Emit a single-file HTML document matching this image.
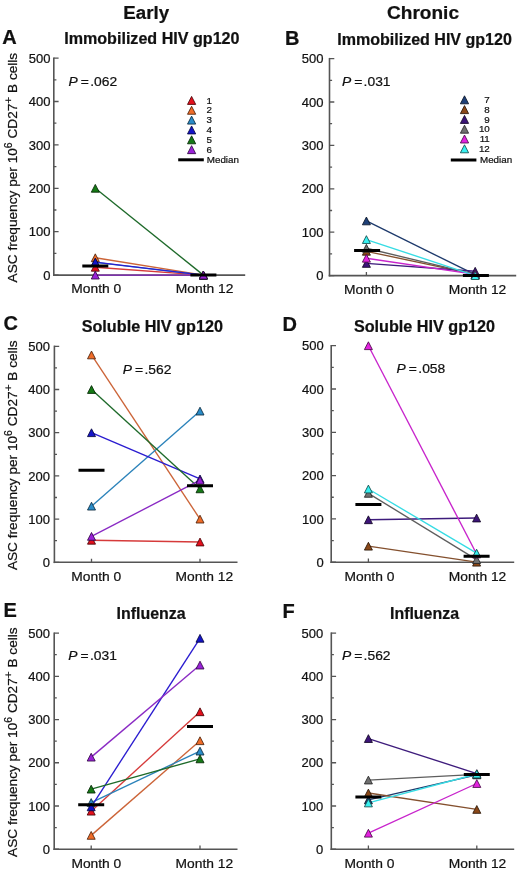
<!DOCTYPE html>
<html><head><meta charset="utf-8"><style>
html,body{margin:0;padding:0;background:#fff;}
body{width:520px;height:871px;overflow:hidden;}
svg{display:block;will-change:transform;filter:blur(0.35px);}
text{font-family:"Liberation Sans", sans-serif;fill:#111;stroke:#111;stroke-width:0.22px;}
.tl{font-size:13px;}
.ml{font-size:13.3px;}
.st{font-size:16px;font-weight:bold;}
.pl{font-size:20px;font-weight:bold;}
.hd{font-size:18px;font-weight:bold;}
.pv{font-size:13.4px;}
.yt{font-size:13.65px;}
.lg{font-size:9.8px;}
</style></head><body>
<svg width="520" height="871" viewBox="0 0 520 871">
<rect width="520" height="871" fill="#fff"/>
<path d="M53.80 57.40V275.90" stroke="#555555" stroke-width="1.6" fill="none"/>
<path d="M53.80 275.10h4.80M53.80 253.40h2.60M53.80 231.70h4.80M53.80 210.00h2.60M53.80 188.30h4.80M53.80 166.60h2.60M53.80 144.90h4.80M53.80 123.20h2.60M53.80 101.50h4.80M53.80 79.80h2.60M53.80 58.10h4.80" stroke="#555555" stroke-width="1.3" fill="none"/>
<path d="M53.00 275.10H245.20" stroke="#555555" stroke-width="1.6" fill="none"/>
<path d="M95.30 275.10v-3.6M203.40 275.10v-3.6" stroke="#555555" stroke-width="1.3" fill="none"/>
<text x="50.40" y="279.70" text-anchor="end" class="tl">0</text>
<text x="50.40" y="236.30" text-anchor="end" class="tl">100</text>
<text x="50.40" y="192.90" text-anchor="end" class="tl">200</text>
<text x="50.40" y="149.50" text-anchor="end" class="tl">300</text>
<text x="50.40" y="106.10" text-anchor="end" class="tl">400</text>
<text x="50.40" y="62.70" text-anchor="end" class="tl">500</text>
<text transform="translate(71.30 293.40) scale(1.04 1)" class="ml">Month 0</text>
<text transform="translate(175.80 293.40) scale(1.04 1)" class="ml">Month 12</text>
<text x="64.20" y="44.20" class="st" textLength="175.3" lengthAdjust="spacingAndGlyphs">Immobilized HIV gp120</text>
<text x="2.20" y="44.00" class="pl">A</text>
<text transform="translate(68.50 85.90) scale(1.035 1)" class="pv"><tspan font-style="italic">P</tspan><tspan dx="2.9">=</tspan><tspan dx="1.3">.062</tspan></text>
<text transform="translate(16.8 167.60) rotate(-90)" text-anchor="middle" class="yt">ASC frequency per 10<tspan dy="-5.3" font-size="10.5">6</tspan><tspan dy="5.3"> CD27</tspan><tspan dy="-5.0" font-size="11.8">+</tspan><tspan dy="5.0"> B cells</tspan></text>
<path d="M95.30 267.29L203.40 275.10" stroke="#d63a3a" stroke-width="1.35" fill="none"/>
<path d="M95.30 257.74L203.40 275.10" stroke="#cc6438" stroke-width="1.35" fill="none"/>
<path d="M95.30 262.30L203.40 275.10" stroke="#2a82ba" stroke-width="1.35" fill="none"/>
<path d="M95.30 262.08L203.40 275.10" stroke="#2a1cd0" stroke-width="1.35" fill="none"/>
<path d="M95.30 188.30L203.40 275.10" stroke="#1e6a2a" stroke-width="1.35" fill="none"/>
<path d="M95.30 275.10L203.40 275.10" stroke="#8a2ac4" stroke-width="1.35" fill="none"/>
<path d="M95.30 263.39L99.30 271.19L91.30 271.19Z" fill="#e4101c" stroke="#480508" stroke-width="0.85" stroke-linejoin="miter"/>
<path d="M95.30 253.84L99.30 261.64L91.30 261.64Z" fill="#f06c28" stroke="#4c220c" stroke-width="0.85" stroke-linejoin="miter"/>
<path d="M95.30 258.40L99.30 266.20L91.30 266.20Z" fill="#2a8cc8" stroke="#0d2c40" stroke-width="0.85" stroke-linejoin="miter"/>
<path d="M95.30 258.18L99.30 265.98L91.30 265.98Z" fill="#1414c8" stroke="#060640" stroke-width="0.85" stroke-linejoin="miter"/>
<path d="M95.30 184.40L99.30 192.20L91.30 192.20Z" fill="#157a15" stroke="#062706" stroke-width="0.85" stroke-linejoin="miter"/>
<path d="M95.30 271.20L99.30 279.00L91.30 279.00Z" fill="#9a22d8" stroke="#310a45" stroke-width="0.85" stroke-linejoin="miter"/>
<path d="M203.40 271.20L207.40 279.00L199.40 279.00Z" fill="#e4101c" stroke="#480508" stroke-width="0.85" stroke-linejoin="miter"/>
<path d="M203.40 271.20L207.40 279.00L199.40 279.00Z" fill="#f06c28" stroke="#4c220c" stroke-width="0.85" stroke-linejoin="miter"/>
<path d="M203.40 271.20L207.40 279.00L199.40 279.00Z" fill="#2a8cc8" stroke="#0d2c40" stroke-width="0.85" stroke-linejoin="miter"/>
<path d="M203.40 271.20L207.40 279.00L199.40 279.00Z" fill="#1414c8" stroke="#060640" stroke-width="0.85" stroke-linejoin="miter"/>
<path d="M203.40 271.20L207.40 279.00L199.40 279.00Z" fill="#157a15" stroke="#062706" stroke-width="0.85" stroke-linejoin="miter"/>
<path d="M203.40 271.20L207.40 279.00L199.40 279.00Z" fill="#9a22d8" stroke="#310a45" stroke-width="0.85" stroke-linejoin="miter"/>
<path d="M82.30 265.99h26M190.40 275.10h26" stroke="#000" stroke-width="3" fill="none"/>
<path d="M329.50 57.90V276.40" stroke="#555555" stroke-width="1.6" fill="none"/>
<path d="M329.50 275.60h4.80M329.50 253.90h2.60M329.50 232.20h4.80M329.50 210.50h2.60M329.50 188.80h4.80M329.50 167.10h2.60M329.50 145.40h4.80M329.50 123.70h2.60M329.50 102.00h4.80M329.50 80.30h2.60M329.50 58.60h4.80" stroke="#555555" stroke-width="1.3" fill="none"/>
<path d="M328.70 275.60H516.20" stroke="#555555" stroke-width="1.6" fill="none"/>
<path d="M366.40 275.60v-3.6M475.20 275.60v-3.6" stroke="#555555" stroke-width="1.3" fill="none"/>
<text x="323.40" y="280.20" text-anchor="end" class="tl">0</text>
<text x="323.40" y="236.80" text-anchor="end" class="tl">100</text>
<text x="323.40" y="193.40" text-anchor="end" class="tl">200</text>
<text x="323.40" y="150.00" text-anchor="end" class="tl">300</text>
<text x="323.40" y="106.60" text-anchor="end" class="tl">400</text>
<text x="323.40" y="63.20" text-anchor="end" class="tl">500</text>
<text transform="translate(344.10 294.00) scale(1.04 1)" class="ml">Month 0</text>
<text transform="translate(448.70 294.00) scale(1.04 1)" class="ml">Month 12</text>
<text x="337.20" y="45.20" class="st" textLength="174.7" lengthAdjust="spacingAndGlyphs">Immobilized HIV gp120</text>
<text x="285.10" y="45.30" class="pl">B</text>
<text transform="translate(341.90 85.90) scale(1.035 1)" class="pv"><tspan font-style="italic">P</tspan><tspan dx="2.9">=</tspan><tspan dx="1.3">.031</tspan></text>
<path d="M366.40 220.92L475.20 274.73" stroke="#1e3a6c" stroke-width="1.35" fill="none"/>
<path d="M366.40 251.30L475.20 274.30" stroke="#84502e" stroke-width="1.35" fill="none"/>
<path d="M366.40 263.45L475.20 271.26" stroke="#3e1c7c" stroke-width="1.35" fill="none"/>
<path d="M366.40 248.26L475.20 274.30" stroke="#5e5e5e" stroke-width="1.35" fill="none"/>
<path d="M366.40 258.24L475.20 274.30" stroke="#c824cc" stroke-width="1.35" fill="none"/>
<path d="M366.40 239.58L475.20 275.60" stroke="#36dce4" stroke-width="1.35" fill="none"/>
<path d="M366.40 217.02L370.40 224.82L362.40 224.82Z" fill="#1e4078" stroke="#091426" stroke-width="0.85" stroke-linejoin="miter"/>
<path d="M366.40 247.40L370.40 255.20L362.40 255.20Z" fill="#8a4818" stroke="#2c1707" stroke-width="0.85" stroke-linejoin="miter"/>
<path d="M366.40 259.55L370.40 267.35L362.40 267.35Z" fill="#3c1478" stroke="#130626" stroke-width="0.85" stroke-linejoin="miter"/>
<path d="M366.40 244.36L370.40 252.16L362.40 252.16Z" fill="#707070" stroke="#232323" stroke-width="0.85" stroke-linejoin="miter"/>
<path d="M366.40 254.34L370.40 262.14L362.40 262.14Z" fill="#e422e0" stroke="#480a47" stroke-width="0.85" stroke-linejoin="miter"/>
<path d="M366.40 235.68L370.40 243.48L362.40 243.48Z" fill="#38f0f0" stroke="#114c4c" stroke-width="0.85" stroke-linejoin="miter"/>
<path d="M475.20 270.83L479.20 278.63L471.20 278.63Z" fill="#1e4078" stroke="#091426" stroke-width="0.85" stroke-linejoin="miter"/>
<path d="M475.20 270.40L479.20 278.20L471.20 278.20Z" fill="#8a4818" stroke="#2c1707" stroke-width="0.85" stroke-linejoin="miter"/>
<path d="M475.20 267.36L479.20 275.16L471.20 275.16Z" fill="#3c1478" stroke="#130626" stroke-width="0.85" stroke-linejoin="miter"/>
<path d="M475.20 270.40L479.20 278.20L471.20 278.20Z" fill="#707070" stroke="#232323" stroke-width="0.85" stroke-linejoin="miter"/>
<path d="M475.20 270.40L479.20 278.20L471.20 278.20Z" fill="#e422e0" stroke="#480a47" stroke-width="0.85" stroke-linejoin="miter"/>
<path d="M475.20 271.70L479.20 279.50L471.20 279.50Z" fill="#38f0f0" stroke="#114c4c" stroke-width="0.85" stroke-linejoin="miter"/>
<path d="M354.10 250.43h26M462.90 275.60h26" stroke="#000" stroke-width="3" fill="none"/>
<path d="M54.40 345.60V563.10" stroke="#555555" stroke-width="1.6" fill="none"/>
<path d="M54.40 562.30h4.80M54.40 540.70h2.60M54.40 519.10h4.80M54.40 497.50h2.60M54.40 475.90h4.80M54.40 454.30h2.60M54.40 432.70h4.80M54.40 411.10h2.60M54.40 389.50h4.80M54.40 367.90h2.60M54.40 346.30h4.80" stroke="#555555" stroke-width="1.3" fill="none"/>
<path d="M53.60 562.30H237.50" stroke="#555555" stroke-width="1.6" fill="none"/>
<path d="M91.50 562.30v-3.6M200.00 562.30v-3.6" stroke="#555555" stroke-width="1.3" fill="none"/>
<text x="49.90" y="566.90" text-anchor="end" class="tl">0</text>
<text x="49.90" y="523.70" text-anchor="end" class="tl">100</text>
<text x="49.90" y="480.50" text-anchor="end" class="tl">200</text>
<text x="49.90" y="437.30" text-anchor="end" class="tl">300</text>
<text x="49.90" y="394.10" text-anchor="end" class="tl">400</text>
<text x="49.90" y="350.90" text-anchor="end" class="tl">500</text>
<text transform="translate(71.30 580.90) scale(1.04 1)" class="ml">Month 0</text>
<text transform="translate(175.60 580.90) scale(1.04 1)" class="ml">Month 12</text>
<text x="81.70" y="332.20" class="st" textLength="141.2" lengthAdjust="spacingAndGlyphs">Soluble HIV gp120</text>
<text x="3.50" y="329.80" class="pl">C</text>
<text transform="translate(122.80 373.70) scale(1.035 1)" class="pv"><tspan font-style="italic">P</tspan><tspan dx="2.9">=</tspan><tspan dx="1.3">.562</tspan></text>
<text transform="translate(16.8 455.30) rotate(-90)" text-anchor="middle" class="yt">ASC frequency per 10<tspan dy="-5.3" font-size="10.5">6</tspan><tspan dy="5.3"> CD27</tspan><tspan dy="-5.0" font-size="11.8">+</tspan><tspan dy="5.0"> B cells</tspan></text>
<path d="M91.50 540.27L200.00 542.00" stroke="#d63a3a" stroke-width="1.35" fill="none"/>
<path d="M91.50 354.94L200.00 519.10" stroke="#cc6438" stroke-width="1.35" fill="none"/>
<path d="M91.50 506.14L200.00 411.10" stroke="#2a82ba" stroke-width="1.35" fill="none"/>
<path d="M91.50 432.70L200.00 478.92" stroke="#2a1cd0" stroke-width="1.35" fill="none"/>
<path d="M91.50 389.50L200.00 488.86" stroke="#1e6a2a" stroke-width="1.35" fill="none"/>
<path d="M91.50 536.38L200.00 480.22" stroke="#8a2ac4" stroke-width="1.35" fill="none"/>
<path d="M91.50 536.37L95.50 544.17L87.50 544.17Z" fill="#e4101c" stroke="#480508" stroke-width="0.85" stroke-linejoin="miter"/>
<path d="M91.50 351.04L95.50 358.84L87.50 358.84Z" fill="#f06c28" stroke="#4c220c" stroke-width="0.85" stroke-linejoin="miter"/>
<path d="M91.50 502.24L95.50 510.04L87.50 510.04Z" fill="#2a8cc8" stroke="#0d2c40" stroke-width="0.85" stroke-linejoin="miter"/>
<path d="M91.50 428.80L95.50 436.60L87.50 436.60Z" fill="#1414c8" stroke="#060640" stroke-width="0.85" stroke-linejoin="miter"/>
<path d="M91.50 385.60L95.50 393.40L87.50 393.40Z" fill="#157a15" stroke="#062706" stroke-width="0.85" stroke-linejoin="miter"/>
<path d="M91.50 532.48L95.50 540.28L87.50 540.28Z" fill="#9a22d8" stroke="#310a45" stroke-width="0.85" stroke-linejoin="miter"/>
<path d="M200.00 538.10L204.00 545.90L196.00 545.90Z" fill="#e4101c" stroke="#480508" stroke-width="0.85" stroke-linejoin="miter"/>
<path d="M200.00 515.20L204.00 523.00L196.00 523.00Z" fill="#f06c28" stroke="#4c220c" stroke-width="0.85" stroke-linejoin="miter"/>
<path d="M200.00 407.20L204.00 415.00L196.00 415.00Z" fill="#2a8cc8" stroke="#0d2c40" stroke-width="0.85" stroke-linejoin="miter"/>
<path d="M200.00 475.02L204.00 482.82L196.00 482.82Z" fill="#1414c8" stroke="#060640" stroke-width="0.85" stroke-linejoin="miter"/>
<path d="M200.00 484.96L204.00 492.76L196.00 492.76Z" fill="#157a15" stroke="#062706" stroke-width="0.85" stroke-linejoin="miter"/>
<path d="M200.00 476.32L204.00 484.12L196.00 484.12Z" fill="#9a22d8" stroke="#310a45" stroke-width="0.85" stroke-linejoin="miter"/>
<path d="M78.50 470.28h26M187.00 485.84h26" stroke="#000" stroke-width="3" fill="none"/>
<path d="M331.20 345.00V563.00" stroke="#555555" stroke-width="1.6" fill="none"/>
<path d="M331.20 562.20h4.80M331.20 540.55h2.60M331.20 518.90h4.80M331.20 497.25h2.60M331.20 475.60h4.80M331.20 453.95h2.60M331.20 432.30h4.80M331.20 410.65h2.60M331.20 389.00h4.80M331.20 367.35h2.60M331.20 345.70h4.80" stroke="#555555" stroke-width="1.3" fill="none"/>
<path d="M330.40 562.20H514.20" stroke="#555555" stroke-width="1.6" fill="none"/>
<path d="M368.40 562.20v-3.6M476.60 562.20v-3.6" stroke="#555555" stroke-width="1.3" fill="none"/>
<text x="323.70" y="566.80" text-anchor="end" class="tl">0</text>
<text x="323.70" y="523.50" text-anchor="end" class="tl">100</text>
<text x="323.70" y="480.20" text-anchor="end" class="tl">200</text>
<text x="323.70" y="436.90" text-anchor="end" class="tl">300</text>
<text x="323.70" y="393.60" text-anchor="end" class="tl">400</text>
<text x="323.70" y="350.30" text-anchor="end" class="tl">500</text>
<text transform="translate(344.50 580.90) scale(1.04 1)" class="ml">Month 0</text>
<text transform="translate(448.70 580.90) scale(1.04 1)" class="ml">Month 12</text>
<text x="353.90" y="332.40" class="st" textLength="141.2" lengthAdjust="spacingAndGlyphs">Soluble HIV gp120</text>
<text x="282.60" y="330.80" class="pl">D</text>
<text transform="translate(396.60 373.20) scale(1.035 1)" class="pv"><tspan font-style="italic">P</tspan><tspan dx="2.9">=</tspan><tspan dx="1.3">.058</tspan></text>
<path d="M368.40 546.18L476.60 562.20" stroke="#84502e" stroke-width="1.35" fill="none"/>
<path d="M368.40 519.77L476.60 518.03" stroke="#3e1c7c" stroke-width="1.35" fill="none"/>
<path d="M368.40 493.35L476.60 559.60" stroke="#5e5e5e" stroke-width="1.35" fill="none"/>
<path d="M368.40 345.70L476.60 553.97" stroke="#c824cc" stroke-width="1.35" fill="none"/>
<path d="M368.40 489.02L476.60 553.11" stroke="#36dce4" stroke-width="1.35" fill="none"/>
<path d="M368.40 542.28L372.40 550.08L364.40 550.08Z" fill="#8a4818" stroke="#2c1707" stroke-width="0.85" stroke-linejoin="miter"/>
<path d="M368.40 515.87L372.40 523.67L364.40 523.67Z" fill="#3c1478" stroke="#130626" stroke-width="0.85" stroke-linejoin="miter"/>
<path d="M368.40 489.45L372.40 497.25L364.40 497.25Z" fill="#707070" stroke="#232323" stroke-width="0.85" stroke-linejoin="miter"/>
<path d="M368.40 341.80L372.40 349.60L364.40 349.60Z" fill="#e422e0" stroke="#480a47" stroke-width="0.85" stroke-linejoin="miter"/>
<path d="M368.40 485.12L372.40 492.92L364.40 492.92Z" fill="#38f0f0" stroke="#114c4c" stroke-width="0.85" stroke-linejoin="miter"/>
<path d="M476.60 558.30L480.60 566.10L472.60 566.10Z" fill="#8a4818" stroke="#2c1707" stroke-width="0.85" stroke-linejoin="miter"/>
<path d="M476.60 514.13L480.60 521.93L472.60 521.93Z" fill="#3c1478" stroke="#130626" stroke-width="0.85" stroke-linejoin="miter"/>
<path d="M476.60 555.70L480.60 563.50L472.60 563.50Z" fill="#707070" stroke="#232323" stroke-width="0.85" stroke-linejoin="miter"/>
<path d="M476.60 550.07L480.60 557.87L472.60 557.87Z" fill="#e422e0" stroke="#480a47" stroke-width="0.85" stroke-linejoin="miter"/>
<path d="M476.60 549.21L480.60 557.01L472.60 557.01Z" fill="#38f0f0" stroke="#114c4c" stroke-width="0.85" stroke-linejoin="miter"/>
<path d="M355.40 504.61h26M463.60 556.14h26" stroke="#000" stroke-width="3" fill="none"/>
<path d="M54.20 632.40V850.00" stroke="#555555" stroke-width="1.6" fill="none"/>
<path d="M54.20 849.20h4.80M54.20 827.59h2.60M54.20 805.98h4.80M54.20 784.37h2.60M54.20 762.76h4.80M54.20 741.15h2.60M54.20 719.54h4.80M54.20 697.93h2.60M54.20 676.32h4.80M54.20 654.71h2.60M54.20 633.10h4.80" stroke="#555555" stroke-width="1.3" fill="none"/>
<path d="M53.40 849.20H237.50" stroke="#555555" stroke-width="1.6" fill="none"/>
<path d="M91.20 849.20v-3.6M200.00 849.20v-3.6" stroke="#555555" stroke-width="1.3" fill="none"/>
<text x="49.90" y="853.80" text-anchor="end" class="tl">0</text>
<text x="49.90" y="810.58" text-anchor="end" class="tl">100</text>
<text x="49.90" y="767.36" text-anchor="end" class="tl">200</text>
<text x="49.90" y="724.14" text-anchor="end" class="tl">300</text>
<text x="49.90" y="680.92" text-anchor="end" class="tl">400</text>
<text x="49.90" y="637.70" text-anchor="end" class="tl">500</text>
<text transform="translate(71.40 867.80) scale(1.04 1)" class="ml">Month 0</text>
<text transform="translate(175.60 867.80) scale(1.04 1)" class="ml">Month 12</text>
<text x="116.60" y="618.50" class="st" textLength="69.0" lengthAdjust="spacingAndGlyphs">Influenza</text>
<text x="3.40" y="617.10" class="pl">E</text>
<text transform="translate(68.30 660.00) scale(1.035 1)" class="pv"><tspan font-style="italic">P</tspan><tspan dx="2.9">=</tspan><tspan dx="1.3">.031</tspan></text>
<text transform="translate(16.8 742.15) rotate(-90)" text-anchor="middle" class="yt">ASC frequency per 10<tspan dy="-5.3" font-size="10.5">6</tspan><tspan dy="5.3"> CD27</tspan><tspan dy="-5.0" font-size="11.8">+</tspan><tspan dy="5.0"> B cells</tspan></text>
<path d="M91.20 811.17L200.00 711.76" stroke="#d63a3a" stroke-width="1.35" fill="none"/>
<path d="M91.20 835.37L200.00 740.72" stroke="#cc6438" stroke-width="1.35" fill="none"/>
<path d="M91.20 802.52L200.00 751.09" stroke="#2a82ba" stroke-width="1.35" fill="none"/>
<path d="M91.20 806.84L200.00 638.29" stroke="#2a1cd0" stroke-width="1.35" fill="none"/>
<path d="M91.20 789.12L200.00 758.87" stroke="#1e6a2a" stroke-width="1.35" fill="none"/>
<path d="M91.20 757.14L200.00 665.08" stroke="#8a2ac4" stroke-width="1.35" fill="none"/>
<path d="M91.20 807.27L95.20 815.07L87.20 815.07Z" fill="#e4101c" stroke="#480508" stroke-width="0.85" stroke-linejoin="miter"/>
<path d="M91.20 831.47L95.20 839.27L87.20 839.27Z" fill="#f06c28" stroke="#4c220c" stroke-width="0.85" stroke-linejoin="miter"/>
<path d="M91.20 798.62L95.20 806.42L87.20 806.42Z" fill="#2a8cc8" stroke="#0d2c40" stroke-width="0.85" stroke-linejoin="miter"/>
<path d="M91.20 802.94L95.20 810.74L87.20 810.74Z" fill="#1414c8" stroke="#060640" stroke-width="0.85" stroke-linejoin="miter"/>
<path d="M91.20 785.22L95.20 793.02L87.20 793.02Z" fill="#157a15" stroke="#062706" stroke-width="0.85" stroke-linejoin="miter"/>
<path d="M91.20 753.24L95.20 761.04L87.20 761.04Z" fill="#9a22d8" stroke="#310a45" stroke-width="0.85" stroke-linejoin="miter"/>
<path d="M200.00 707.86L204.00 715.66L196.00 715.66Z" fill="#e4101c" stroke="#480508" stroke-width="0.85" stroke-linejoin="miter"/>
<path d="M200.00 736.82L204.00 744.62L196.00 744.62Z" fill="#f06c28" stroke="#4c220c" stroke-width="0.85" stroke-linejoin="miter"/>
<path d="M200.00 747.19L204.00 754.99L196.00 754.99Z" fill="#2a8cc8" stroke="#0d2c40" stroke-width="0.85" stroke-linejoin="miter"/>
<path d="M200.00 634.39L204.00 642.19L196.00 642.19Z" fill="#1414c8" stroke="#060640" stroke-width="0.85" stroke-linejoin="miter"/>
<path d="M200.00 754.97L204.00 762.77L196.00 762.77Z" fill="#157a15" stroke="#062706" stroke-width="0.85" stroke-linejoin="miter"/>
<path d="M200.00 661.18L204.00 668.98L196.00 668.98Z" fill="#9a22d8" stroke="#310a45" stroke-width="0.85" stroke-linejoin="miter"/>
<path d="M78.20 804.68h26M187.00 726.46h26" stroke="#000" stroke-width="3" fill="none"/>
<path d="M331.30 632.40V850.00" stroke="#555555" stroke-width="1.6" fill="none"/>
<path d="M331.30 849.20h4.80M331.30 827.59h2.60M331.30 805.98h4.80M331.30 784.37h2.60M331.30 762.76h4.80M331.30 741.15h2.60M331.30 719.54h4.80M331.30 697.93h2.60M331.30 676.32h4.80M331.30 654.71h2.60M331.30 633.10h4.80" stroke="#555555" stroke-width="1.3" fill="none"/>
<path d="M330.50 849.20H514.20" stroke="#555555" stroke-width="1.6" fill="none"/>
<path d="M368.40 849.20v-3.6M476.80 849.20v-3.6" stroke="#555555" stroke-width="1.3" fill="none"/>
<text x="323.30" y="853.80" text-anchor="end" class="tl">0</text>
<text x="323.30" y="810.58" text-anchor="end" class="tl">100</text>
<text x="323.30" y="767.36" text-anchor="end" class="tl">200</text>
<text x="323.30" y="724.14" text-anchor="end" class="tl">300</text>
<text x="323.30" y="680.92" text-anchor="end" class="tl">400</text>
<text x="323.30" y="637.70" text-anchor="end" class="tl">500</text>
<text transform="translate(344.50 867.80) scale(1.04 1)" class="ml">Month 0</text>
<text transform="translate(448.70 867.80) scale(1.04 1)" class="ml">Month 12</text>
<text x="390.00" y="618.50" class="st" textLength="69.0" lengthAdjust="spacingAndGlyphs">Influenza</text>
<text x="282.60" y="618.30" class="pl">F</text>
<text transform="translate(341.90 659.90) scale(1.035 1)" class="pv"><tspan font-style="italic">P</tspan><tspan dx="2.9">=</tspan><tspan dx="1.3">.562</tspan></text>
<path d="M368.40 799.93L476.80 774.86" stroke="#1e3a6c" stroke-width="1.35" fill="none"/>
<path d="M368.40 793.01L476.80 809.44" stroke="#84502e" stroke-width="1.35" fill="none"/>
<path d="M368.40 738.56L476.80 773.57" stroke="#3e1c7c" stroke-width="1.35" fill="none"/>
<path d="M368.40 780.05L476.80 774.43" stroke="#5e5e5e" stroke-width="1.35" fill="none"/>
<path d="M368.40 833.21L476.80 783.51" stroke="#c824cc" stroke-width="1.35" fill="none"/>
<path d="M368.40 802.95L476.80 774.00" stroke="#36dce4" stroke-width="1.35" fill="none"/>
<path d="M368.40 796.03L372.40 803.83L364.40 803.83Z" fill="#1e4078" stroke="#091426" stroke-width="0.85" stroke-linejoin="miter"/>
<path d="M368.40 789.11L372.40 796.91L364.40 796.91Z" fill="#8a4818" stroke="#2c1707" stroke-width="0.85" stroke-linejoin="miter"/>
<path d="M368.40 734.66L372.40 742.46L364.40 742.46Z" fill="#3c1478" stroke="#130626" stroke-width="0.85" stroke-linejoin="miter"/>
<path d="M368.40 776.15L372.40 783.95L364.40 783.95Z" fill="#707070" stroke="#232323" stroke-width="0.85" stroke-linejoin="miter"/>
<path d="M368.40 829.31L372.40 837.11L364.40 837.11Z" fill="#e422e0" stroke="#480a47" stroke-width="0.85" stroke-linejoin="miter"/>
<path d="M368.40 799.05L372.40 806.85L364.40 806.85Z" fill="#38f0f0" stroke="#114c4c" stroke-width="0.85" stroke-linejoin="miter"/>
<path d="M476.80 770.96L480.80 778.76L472.80 778.76Z" fill="#1e4078" stroke="#091426" stroke-width="0.85" stroke-linejoin="miter"/>
<path d="M476.80 805.54L480.80 813.34L472.80 813.34Z" fill="#8a4818" stroke="#2c1707" stroke-width="0.85" stroke-linejoin="miter"/>
<path d="M476.80 769.67L480.80 777.47L472.80 777.47Z" fill="#3c1478" stroke="#130626" stroke-width="0.85" stroke-linejoin="miter"/>
<path d="M476.80 770.53L480.80 778.33L472.80 778.33Z" fill="#707070" stroke="#232323" stroke-width="0.85" stroke-linejoin="miter"/>
<path d="M476.80 779.61L480.80 787.41L472.80 787.41Z" fill="#e422e0" stroke="#480a47" stroke-width="0.85" stroke-linejoin="miter"/>
<path d="M476.80 770.10L480.80 777.90L472.80 777.90Z" fill="#38f0f0" stroke="#114c4c" stroke-width="0.85" stroke-linejoin="miter"/>
<path d="M355.40 796.90h26M463.80 774.43h26" stroke="#000" stroke-width="3" fill="none"/>
<path d="M191.60 96.40L195.70 104.40L187.50 104.40Z" fill="#e4101c" stroke="#480508" stroke-width="0.85" stroke-linejoin="miter"/>
<text x="206.6" y="103.60" class="lg">1</text>
<path d="M191.60 106.25L195.70 114.25L187.50 114.25Z" fill="#f06c28" stroke="#4c220c" stroke-width="0.85" stroke-linejoin="miter"/>
<text x="206.6" y="113.45" class="lg">2</text>
<path d="M191.60 116.10L195.70 124.10L187.50 124.10Z" fill="#2a8cc8" stroke="#0d2c40" stroke-width="0.85" stroke-linejoin="miter"/>
<text x="206.6" y="123.30" class="lg">3</text>
<path d="M191.60 125.95L195.70 133.95L187.50 133.95Z" fill="#1414c8" stroke="#060640" stroke-width="0.85" stroke-linejoin="miter"/>
<text x="206.6" y="133.15" class="lg">4</text>
<path d="M191.60 135.80L195.70 143.80L187.50 143.80Z" fill="#157a15" stroke="#062706" stroke-width="0.85" stroke-linejoin="miter"/>
<text x="206.6" y="143.00" class="lg">5</text>
<path d="M191.60 145.65L195.70 153.65L187.50 153.65Z" fill="#9a22d8" stroke="#310a45" stroke-width="0.85" stroke-linejoin="miter"/>
<text x="206.6" y="152.85" class="lg">6</text>
<path d="M178.2 159.8H203.8" stroke="#000" stroke-width="3"/>
<text x="206.8" y="162.8" class="lg">Median</text>
<path d="M464.50 95.80L468.60 103.80L460.40 103.80Z" fill="#1e4078" stroke="#091426" stroke-width="0.85" stroke-linejoin="miter"/>
<text x="489.8" y="103.00" class="lg" text-anchor="end">7</text>
<path d="M464.50 105.60L468.60 113.60L460.40 113.60Z" fill="#8a4818" stroke="#2c1707" stroke-width="0.85" stroke-linejoin="miter"/>
<text x="489.8" y="112.80" class="lg" text-anchor="end">8</text>
<path d="M464.50 115.40L468.60 123.40L460.40 123.40Z" fill="#3c1478" stroke="#130626" stroke-width="0.85" stroke-linejoin="miter"/>
<text x="489.8" y="122.60" class="lg" text-anchor="end">9</text>
<path d="M464.50 125.20L468.60 133.20L460.40 133.20Z" fill="#707070" stroke="#232323" stroke-width="0.85" stroke-linejoin="miter"/>
<text x="489.8" y="132.40" class="lg" text-anchor="end">10</text>
<path d="M464.50 135.00L468.60 143.00L460.40 143.00Z" fill="#e422e0" stroke="#480a47" stroke-width="0.85" stroke-linejoin="miter"/>
<text x="489.8" y="142.20" class="lg" text-anchor="end">11</text>
<path d="M464.50 144.80L468.60 152.80L460.40 152.80Z" fill="#38f0f0" stroke="#114c4c" stroke-width="0.85" stroke-linejoin="miter"/>
<text x="489.8" y="152.00" class="lg" text-anchor="end">12</text>
<path d="M450.8 160.0H476.4" stroke="#000" stroke-width="3"/>
<text x="480.0" y="163.0" class="lg">Median</text>
<text x="123.3" y="18.5" class="hd" textLength="45.8" lengthAdjust="spacingAndGlyphs">Early</text>
<text x="387.0" y="18.7" class="hd" textLength="72.0" lengthAdjust="spacingAndGlyphs">Chronic</text>
</svg>
</body></html>
